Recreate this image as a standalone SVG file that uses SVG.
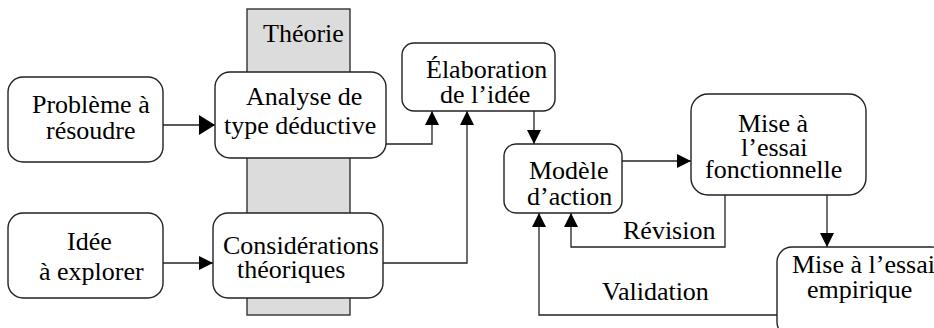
<svg xmlns="http://www.w3.org/2000/svg" width="934" height="328" viewBox="0 0 934 328">
<style>
text{font-family:"Liberation Serif",Tinos,"Times New Roman","DejaVu Serif",serif;font-size:26px;fill:#000}
.box{fill:#fff;stroke:#222;stroke-width:1.4}
.band{fill:#dcdcdc;stroke:#333;stroke-width:1.4}
.conn{fill:none;stroke:#222;stroke-width:1.3}
</style>
<defs>
<marker id="ah" markerUnits="userSpaceOnUse" markerWidth="14" markerHeight="14" refX="14" refY="7" orient="auto">
<path d="M0,0 L14,7 L0,14 z" fill="#000"/>
</marker>
<marker id="ahBig" markerUnits="userSpaceOnUse" markerWidth="16" markerHeight="20" refX="16" refY="10" orient="auto">
<path d="M0,0 L16,10 L0,20 z" fill="#000"/>
</marker>
</defs>
<g id="theorie">
<rect class="band" x="247" y="9" width="103" height="306"/>
<text x="263" y="42" font-family="Liberation Serif, serif">Théorie</text>
</g>
<g id="connectors">
<path class="conn" d="M163,125 H215" marker-end="url(#ahBig)"/>
<path class="conn" d="M163,263 H213" marker-end="url(#ah)"/>
<path class="conn" d="M382,144 H432 V111" marker-end="url(#ah)"/>
<path class="conn" d="M383,263 H467 V111" marker-end="url(#ah)"/>
<path class="conn" d="M534,111 V144" marker-end="url(#ah)"/>
<path class="conn" d="M620,161 H691" marker-end="url(#ah)"/>
<path class="conn" d="M827,195 V247" marker-end="url(#ah)"/>
<path class="conn" d="M725,195 V247 H571 V213" marker-end="url(#ah)"/>
<path class="conn" d="M777,315 H539 V213" marker-end="url(#ah)"/>
<text x="623" y="239">Révision</text>
<text x="602" y="300">Validation</text>
</g>
<g id="probleme">
<rect class="box" x="8" y="77" width="155" height="85" rx="15"/>
<text x="32" y="113">Problème à</text>
<text x="46" y="139">résoudre</text>
</g>
<g id="analyse">
<rect class="box" x="215" y="72" width="171" height="86" rx="15"/>
<text x="246" y="105">Analyse de</text>
<text x="224" y="134">type déductive</text>
</g>
<g id="idee">
<rect class="box" x="8" y="213" width="155" height="85" rx="15"/>
<text x="67" y="250">Idée</text>
<text x="39" y="280">à explorer</text>
</g>
<g id="considerations">
<rect class="box" x="213" y="213" width="170" height="85" rx="15"/>
<text x="223" y="254">Considérations</text>
<text x="237" y="278">théoriques</text>
</g>
<g id="elaboration">
<rect class="box" x="402" y="43" width="153" height="68" rx="12"/>
<text x="426" y="78">Élaboration</text>
<text x="440" y="103">de l’idée</text>
</g>
<g id="modele">
<rect class="box" x="504" y="144" width="118" height="69" rx="12"/>
<text x="529" y="179">Modèle</text>
<text x="527" y="205">d’action</text>
</g>
<g id="fonctionnelle">
<rect class="box" x="691" y="94" width="175" height="101" rx="17"/>
<text x="738" y="132">Mise à</text>
<text x="741" y="156">l’essai</text>
<text x="705" y="178">fonctionnelle</text>
</g>
<g id="empirique">
<rect class="box" x="777" y="247" width="170" height="90" rx="15"/>
<text x="792" y="273">Mise à l’essai</text>
<text x="807" y="298">empirique</text>
</g>
</svg>
